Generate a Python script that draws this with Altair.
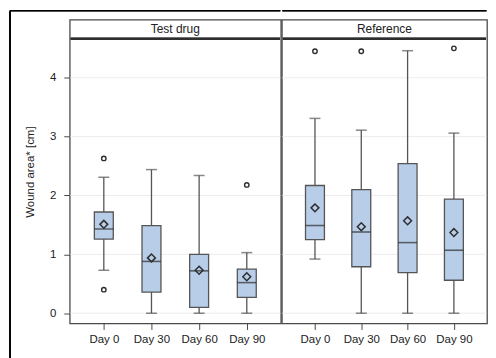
import altair as alt
import pandas as pd

days = ["Day 0", "Day 30", "Day 60", "Day 90"]

# Test drug
t_lo = [0.73, 0.00, 0.00, 0.00]
t_q1 = [1.26, 0.36, 0.10, 0.27]
t_med = [1.43, 0.88, 0.72, 0.52]
t_q3 = [1.72, 1.49, 1.00, 0.75]
t_hi = [2.31, 2.44, 2.34, 1.03]
t_mean = [1.51, 0.94, 0.73, 0.62]
t_out_day = ["Day 0", "Day 0", "Day 90"]
t_out_val = [0.40, 2.63, 2.18]

# Reference
r_lo = [0.92, 0.00, 0.00, 0.00]
r_q1 = [1.25, 0.79, 0.69, 0.56]
r_med = [1.49, 1.38, 1.20, 1.07]
r_q3 = [2.17, 2.10, 2.54, 1.94]
r_hi = [3.31, 3.11, 4.46, 3.06]
r_mean = [1.79, 1.47, 1.57, 1.37]
r_out_day = ["Day 0", "Day 30", "Day 90"]
r_out_val = [4.45, 4.45, 4.50]

groups = ["Test drug", "Reference"]
yticks = [0, 1, 2, 3, 4]

Y_MIN, Y_MAX, HEADER_Y, HEADER_TXT = -0.174, 4.986, 4.665, 4.83
H = 305
DARK = "#2e2e2e"
BORDER = "#4a4a4a"
WHISK = "#555555"
FILL = "#b8cee8"
GRID = "#ececec"
FONT = "Liberation Sans"

yscale = alt.Scale(domain=[Y_MIN, Y_MAX], nice=False, zero=False)


def panel(name, lo, q1, med, q3, hi, mean, od, ov, width, first):
    df = pd.DataFrame(dict(day=days, lo=lo, q1=q1, med=med, q3=q3, hi=hi, mean=mean))
    dfo = pd.DataFrame(dict(day=od, val=ov))
    dfg = pd.DataFrame(dict(v=yticks))
    xscale = alt.Scale(type="point", padding=0.715)
    xs = alt.X("day:N", sort=days, title=None, scale=xscale,
               axis=alt.Axis(labelAngle=0, domain=False, tickSize=6, tickColor=BORDER,
                             labelFont=FONT, labelFontSize=11.5, labelColor="#222",
                             labelPadding=4, grid=False))
    if first:
        yaxis = alt.Axis(values=yticks, format="d", domain=False, tickSize=6, tickColor=BORDER,
                         labelFont=FONT, labelFontSize=11.5, labelColor="#222",
                         labelPadding=8, title="Wound area* [cm]", titleFont=FONT,
                         titleFontSize=11.5, titleFontWeight="normal", titleColor="#222",
                         titlePadding=14, grid=False)
    else:
        yaxis = None
    grid = alt.Chart(dfg).mark_rule(color=GRID, strokeWidth=1).encode(
        y=alt.Y("v:Q", scale=yscale, axis=yaxis), x=alt.value(0.5), x2=alt.value(width - 0.5))
    base = alt.Chart(df).encode(x=xs)
    w1 = base.mark_rule(color=WHISK, strokeWidth=1.3).encode(y="lo:Q", y2="q1:Q")
    w2 = base.mark_rule(color=WHISK, strokeWidth=1.3).encode(y="q3:Q", y2="hi:Q")
    c1 = base.mark_tick(color=WHISK, size=11, thickness=1.5).encode(y="lo:Q")
    c2 = base.mark_tick(color=WHISK, size=11, thickness=1.5).encode(y="hi:Q")
    box = base.mark_bar(size=19, fill=FILL, stroke=WHISK, strokeWidth=1.3).encode(
        y="q1:Q", y2="q3:Q")
    md = base.mark_tick(color=DARK, size=19, thickness=1.6).encode(y="med:Q")
    mn = base.mark_point(shape="diamond", size=62, filled=False, color=DARK,
                         strokeWidth=1.5, opacity=1).encode(y="mean:Q")
    outl = alt.Chart(dfo).mark_point(shape="circle", size=20, filled=False, color=DARK,
                                      strokeWidth=1.4, opacity=1).encode(
        x=alt.X("day:N", sort=days, scale=xscale), y="val:Q")
    hdr_line = base.mark_rule(color=DARK, strokeWidth=2).encode(
        y=alt.datum(HEADER_Y), x=alt.value(1), x2=alt.value(width - 1))
    hdr_txt = alt.Chart(pd.DataFrame({"g": [name]})).mark_text(
        font=FONT, fontSize=12, color="#222").encode(
        text="g:N", x=alt.value(width / 2), y=alt.datum(HEADER_TXT))
    frame_top = base.mark_rule(color="#000", strokeWidth=1.2).encode(
        x=alt.value(-60 if first else 0.6), x2=alt.value(width - 0.6),
        y=alt.value(-9))
    layers = [grid, w1, w2, c1, c2, box, md, mn, outl, hdr_line, hdr_txt, frame_top]
    if first:
        frame_left = base.mark_rule(color="#000", strokeWidth=1.2).encode(
            x=alt.value(-60), y=alt.value(-9), y2=alt.value(H + 60))
        layers.append(frame_left)
    return alt.layer(*layers).properties(width=width, height=H)


left = panel(groups[0], t_lo, t_q1, t_med, t_q3, t_hi, t_mean, t_out_day, t_out_val, 212, True)
right = panel(groups[1], r_lo, r_q1, r_med, r_q3, r_hi, r_mean, r_out_day, r_out_val, 206, False)

chart = alt.hconcat(left, right, spacing=-1).resolve_scale(x="independent").properties(
    padding={"left": 0, "top": 0, "right": 0, "bottom": 0}, background="white"
).configure_view(stroke=BORDER, strokeWidth=1.3)

chart.save("out.html", embed_options={"renderer": "svg", "actions": False})
